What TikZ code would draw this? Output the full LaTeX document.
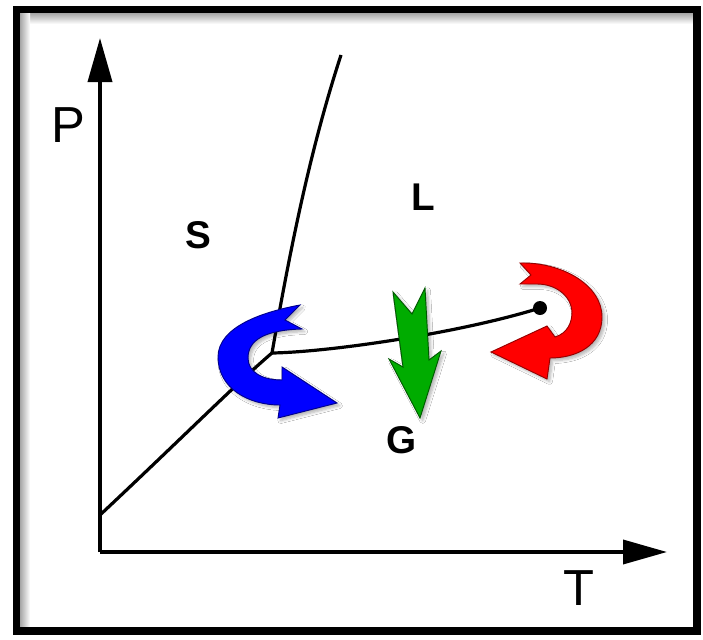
\documentclass[tikz,border=0pt]{standalone}
\usepackage{fontspec}
\setmainfont{Liberation Sans}
\usetikzlibrary{arrows.meta,shadows.blur}
\definecolor{myblue}{RGB}{0,0,255}
\definecolor{myblueline}{RGB}{0,0,140}
\definecolor{mygreen}{RGB}{0,172,0}
\definecolor{mygreenline}{RGB}{0,90,0}
\definecolor{myred}{RGB}{255,0,0}
\definecolor{myredline}{RGB}{150,0,0}
\tikzset{
  axis/.style={line width=2.7pt,-{Triangle[length=33pt,width=18pt]}},
  phaseline/.style={line width=2.4pt},
  biglabel/.style={font=\fontsize{38}{38}\selectfont, inner sep=0pt},
  phaselabel/.style={font=\bfseries\fontsize{29}{29}\selectfont, inner sep=0pt},
  turn/.style={line width=0.7pt, line join=miter, blur shadow={shadow xshift=2pt, shadow yshift=-2pt, shadow opacity=30, shadow blur steps=6}},
}
\begin{document}
\begin{tikzpicture}[x=0.75pt,y=-0.75pt]
\useasboundingbox (0,0) rectangle (703,639);
\fill[white] (0,0) rectangle (703,639);
% inner shadow of frame
\shade[top color=black!35, bottom color=white] (20,13) rectangle (694,24);
\shade[left color=black!35, right color=white] (20,13) rectangle (30,628);
% frame
\draw[line width=5.5pt] (16.5,9.5) rectangle (697,631);

% coordinates
\coordinate (O) at (100,552);
\coordinate (Ptop) at (100,38);
\coordinate (Tend) at (667,552);
\coordinate (SGstart) at (100,515);
\coordinate (TP) at (272,353);
\coordinate (SLend) at (341,55);
\node[circle, fill=black, inner sep=0pt, minimum size=10.5pt] (CP) at (540,308) {};

% axes
\draw[axis] (O) -- (Ptop);
\draw[axis] (O) -- (Tend);

% phase boundaries
\draw[phaseline] (SGstart) .. controls (180,440) and (240,380) .. (TP);
\draw[phaseline] (TP) .. controls (290,250) and (310,150) .. (SLend);
\draw[phaseline] (TP) .. controls (330,352) and (460,333) .. (CP.center);

% labels
\node[biglabel] (P) at (68,125) {P};
\node[biglabel] (T) at (579,588) {T};
\node[phaselabel] (S) at (198,235) {S};
\node[phaselabel] (L) at (423,197) {L};
\node[phaselabel] (G) at (402,440) {G};

% blue curved arrow (sublimation)
\draw[turn, fill=myblue, draw=myblueline]
  (300,305) .. controls (262,312) and (218,327) .. (218,357)
  .. controls (218,388) and (248,405) .. (280,405)
  -- (278,418) -- (337,403) -- (282,367) -- (282,380)
  .. controls (262,380) and (248,372) .. (248,358)
  .. controls (248,340) and (265,330) .. (302,329)
  -- (285,320) -- cycle;

% green arrow (condensation)
\draw[turn, fill=mygreen, draw=mygreenline]
  (393,292) -- (412,314) -- (425,288) -- (429,360) -- (441,351)
  -- (420,418) -- (389,359) -- (403,367) -- cycle;

% red curved arrow (supercritical)
\draw[turn, fill=myred, draw=myredline]
  (520,263) .. controls (562,262) and (602,285) .. (602,317)
  .. controls (602,346) and (576,358) .. (550,358)
  -- (547,379) -- (491,352) -- (547,326) -- (555,337)
  .. controls (568,333) and (572,322) .. (572,312)
  .. controls (571,295) and (555,284) .. (537,284)
  -- (520,284) -- (531,275) -- cycle;
\end{tikzpicture}
\end{document}
